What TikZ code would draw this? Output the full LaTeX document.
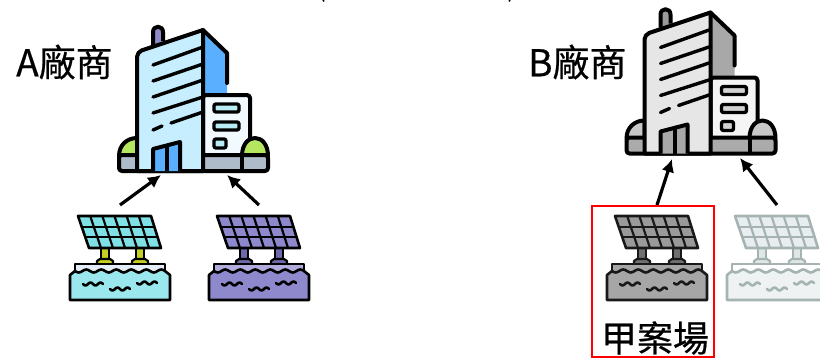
\documentclass[tikz,border=0pt]{standalone}
\usepackage{fontspec}
\setmainfont{Noto Sans CJK TC}
\usetikzlibrary{arrows.meta}

\definecolor{frontA}{HTML}{C6EEFF}
\definecolor{sideA}{HTML}{5AB0FF}
\definecolor{annexA}{HTML}{F2FAFF}
\definecolor{winA}{HTML}{B8ECF5}
\definecolor{bushA}{HTML}{B5E660}
\definecolor{baseA}{HTML}{AEBBC8}
\definecolor{mastA}{HTML}{8E89C8}
\definecolor{frontB}{HTML}{E6E6E6}
\definecolor{sideB}{HTML}{A8A8A8}
\definecolor{annexB}{HTML}{F5F5F5}
\definecolor{winB}{HTML}{D2D2D2}
\definecolor{bushB}{HTML}{C8C8C8}
\definecolor{baseB}{HTML}{ABABAB}
\definecolor{mastB}{HTML}{9A9A9A}
\definecolor{cellcyan}{HTML}{7FE0E6}
\definecolor{watercyan}{HTML}{9AE8EE}
\definecolor{stripcyan}{HTML}{E5EEF8}
\definecolor{legcyan}{HTML}{C5D020}
\definecolor{cellviolet}{HTML}{8E89CC}
\definecolor{legviolet}{HTML}{6E69A8}
\definecolor{cellgrey}{HTML}{9A9A9A}
\definecolor{watergrey}{HTML}{A6A6A6}
\definecolor{leggrey}{HTML}{707070}
\definecolor{linepale}{HTML}{A5B3B3}
\definecolor{cellpale}{HTML}{E8EDEF}
\definecolor{waterpale}{HTML}{EEF2F3}
\definecolor{legpale}{HTML}{E0E6E6}

\tikzset{
	title/.style = {inner sep = 0pt, font = \fontsize{37}{39}\selectfont\addfontfeature{FakeBold=0.5}},
	flow/.style = {-{Latex[length = 13pt, width = 13pt]}, line width = 3.2pt},
	pics/building/.style n args = {7}{code = {
		\begin{scope}[line width = 4pt, line join = round]
		\draw[fill = #7] (153,45) -- (153,32) .. controls (153,25) and (163,25) .. (163,32) -- (163,41);
		\fill[#2] (203,30) -- (227,53) -- (227,97) -- (203,97) -- cycle;
		\draw[line cap = round] (203,30) -- (227,53) -- (227,83);
		\draw[rounded corners = 3pt, fill = #3] (203,156) -- (203,95) -- (250,95) -- (250,156);
		\foreach \y in {104,122}
			\draw[line width = 3.4pt, rounded corners = 2pt, fill = #4] (214,\y) rectangle (239,\y + 8);
		\draw[line width = 3.4pt, rounded corners = 2pt, fill = #4] (214,139) rectangle (226,148);
		\draw[fill = #5] (119,156) .. controls (119,145) and (127,138) .. (137,138) -- (137,156) -- cycle;
		\draw[fill = #5] (242,156) .. controls (242,132) and (268,132) .. (268,156) -- cycle;
		\draw[rounded corners = 3pt, fill = #6] (119,155) rectangle (268,171);
		\draw[fill = #1] (137,171) [rounded corners = 5pt] -- (137,52) [sharp corners] -- (203,30) -- (203,171) -- cycle;
		\draw (242,155) -- (242,171);
		\draw[line width = 3.4pt, line cap = round] (153,65) -- (203,47) (153,81) -- (203,64) (153,97) -- (203,80) (153,113) -- (203,97) (153,130) -- (162,126) (171,123) -- (203,112);
		\draw[fill = #2] (153,171) -- (153,149) -- (180,142) -- (180,171);
		\draw (167,146) -- (167,171);
		\end{scope}
	}},
	pics/floatpanel/.style n args = {5}{code = {
		\begin{scope}[draw = #1, line width = 2.6pt, line join = round]
		\draw[line width = 2.2pt, fill = #5] (101,248) rectangle (109,259) (136,248) rectangle (144,259);
		\draw[line width = 2.2pt, fill = #5] (97,265) -- (97,261) -- (100,259) -- (110,259) -- (113,261) -- (113,265);
		\draw[line width = 2.2pt, fill = #5] (132,265) -- (132,261) -- (135,259) -- (145,259) -- (148,261) -- (148,265);
		\draw[fill = #2] (78,216) -- (151,216) -- (161,248) -- (89,248) -- cycle;
		\foreach \i in {1,...,5}
			\draw[line width = 2.2pt] (78 + 73*\i/6,216) -- (89 + 72*\i/6,248);
		\foreach \j in {1,2}
			\draw[line width = 2.2pt] (78 + 11*\j/3,216 + 32*\j/3) -- (151 + 10*\j/3,216 + 32*\j/3);
		\fill[#4] (75,264) rectangle (165,272);
		\fill[#3] (70,300) -- (70,275) -- (75,271) -- (165,271) -- (170,275) -- (170,300) -- cycle;
		\draw (75,271) -- (75,264) -- (165,264) -- (165,271);
		\draw (75,271) -- (70,275) -- (70,300) -- (170,300) -- (170,275) -- (165,271);
		\draw[line cap = round] plot[smooth, samples = 49, domain = 75:165] (\x,{271 + 1.5*sin(\x*24)});
		\foreach \a/\b in {83/284,110/289,137/283}
			\draw[line cap = round] plot[smooth, samples = 15, domain = 0:20] (\a + \x,{\b + 1.5*sin(\x*36)});
		\end{scope}
		\coordinate (-out) at (120,205);
	}},
}

\begin{document}
\begin{tikzpicture}[x = 1pt, y = -1pt]
	\useasboundingbox (0,0) rectangle (820,359);
	\clip (0,0) rectangle (820,359);
	\draw[line width = 1.5pt] (323,0) -- (324,1.5) (510,0) -- (509,1.5);

	\node[title, anchor = west] (titleA) at (16,62) {A廠商};
	\node[title, anchor = west] (titleB) at (528,62) {B廠商};

	\pic (bldA) at (0,0) {building = {frontA}{sideA}{annexA}{winA}{bushA}{baseA}{mastA}};
	\pic (bldB) at (507.5,-17.5) {building = {frontB}{sideB}{annexB}{winB}{bushB}{baseB}{mastB}};

	\pic (panA) at (0,0) {floatpanel = {black}{cellcyan}{watercyan}{stripcyan}{legcyan}};
	\pic (panB) at (139,0) {floatpanel = {black}{cellviolet}{cellviolet}{cellviolet!70!white}{legviolet}};
	\pic (panC) at (537,0) {floatpanel = {black!90}{cellgrey}{watergrey}{watergrey}{leggrey}};
	\pic (panD) at (657,0) {floatpanel = {linepale}{cellpale}{waterpale}{white}{legpale}};

	\coordinate (inA) at (161,175);
	\coordinate (inB) at (227,175);
	\coordinate (inC) at (672,159);
	\coordinate (inD) at (740,158);
	\draw[flow] (panA-out) -- (inA);
	\draw[flow] (panB-out) -- (inB);
	\draw[flow] (panC-out) -- (inC);
	\draw[flow] (panD-out) -- (inD);

	\node[title, font = \fontsize{36}{38}\selectfont\addfontfeature{FakeBold=0.5}] (site) at (655,338) {甲案場};
	\node[draw = red, line width = 1.3pt, inner sep = 0pt, minimum width = 122pt, minimum height = 151pt] (mark) at (653,281.5) {};
\end{tikzpicture}
\end{document}
